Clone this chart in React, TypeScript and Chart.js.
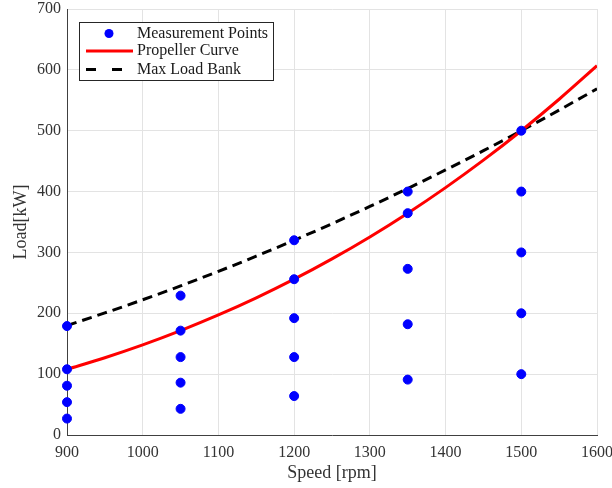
import React, { useEffect, useRef } from "react";
import { Chart, registerables } from "chart.js";

Chart.register(...registerables);

// Measurement points
const measSpeed = [900, 900, 900, 900, 900, 1050, 1050, 1050, 1050, 1050, 1200, 1200, 1200, 1200, 1200, 1350, 1350, 1350, 1350, 1350, 1500, 1500, 1500, 1500, 1500];
const measLoad = [27, 54, 81, 108, 179, 43, 86, 128, 171.5, 229, 64, 128, 192, 256, 320, 91, 182, 273, 364.5, 400, 100, 200, 300, 400, 500];

// Curves
const curveSpeed = [900, 950, 1000, 1050, 1100, 1150, 1200, 1250, 1300, 1350, 1400, 1450, 1500, 1550, 1600];
const propellerLoad = [108.0, 127.0, 148.1, 171.5, 197.2, 225.3, 256.0, 289.4, 325.5, 364.5, 406.5, 451.6, 500.0, 551.7, 606.8];
const maxLoadBank = [180.0, 200.6, 222.2, 245.0, 268.9, 293.9, 320.0, 347.2, 375.6, 405.0, 435.6, 467.2, 500.0, 533.9, 568.9];

const legendLabels = ["Measurement Points", "Propeller Curve", "Max Load Bank"];
const xTitle = "Speed [rpm]";
const yTitle = "Load[kW]";

const FONT = "'Liberation Serif', serif";

const legendPlugin = {
  id: "boxLegend",
  afterDatasetsDraw(chart: any) {
    const ctx = chart.ctx;
    const ca = chart.chartArea;
    const x0 = ca.left + 12;
    const y0 = ca.top + 13;
    const w = 194;
    const h = 58;
    ctx.save();
    ctx.fillStyle = "#ffffff";
    ctx.fillRect(x0, y0, w, h);
    ctx.strokeStyle = "#262626";
    ctx.lineWidth = 1;
    ctx.strokeRect(x0 + 0.5, y0 + 0.5, w, h);
    const rows = [y0 + 11.5, y0 + 29, y0 + 47.5];
    ctx.fillStyle = "#0000ff";
    ctx.beginPath();
    ctx.arc(x0 + 30, rows[0], 4.5, 0, Math.PI * 2);
    ctx.fill();
    ctx.strokeStyle = "#ff0000";
    ctx.lineWidth = 3;
    ctx.beginPath();
    ctx.moveTo(x0 + 7, rows[1]);
    ctx.lineTo(x0 + 54, rows[1]);
    ctx.stroke();
    ctx.strokeStyle = "#000000";
    ctx.setLineDash([10, 16]);
    ctx.beginPath();
    ctx.moveTo(x0 + 7, rows[2]);
    ctx.lineTo(x0 + 54, rows[2]);
    ctx.stroke();
    ctx.setLineDash([]);
    ctx.fillStyle = "#1a1a1a";
    ctx.font = "16px " + FONT;
    ctx.textBaseline = "middle";
    ctx.textAlign = "left";
    legendLabels.forEach((t, i) => ctx.fillText(t, x0 + 58, rows[i]));
    ctx.restore();
  },
};

export default function App() {
  const ref = useRef<HTMLCanvasElement | null>(null);
  useEffect(() => {
    if (!ref.current) return;
    const chart = new Chart(ref.current, {
      type: "scatter",
      data: {
        datasets: [
          {
            label: legendLabels[0],
            data: measSpeed.map((x, i) => ({ x, y: measLoad[i] })),
            backgroundColor: "#0000ff",
            borderColor: "#0000ff",
            pointRadius: 4.5,
            showLine: false,
            clip: false,
          },
          {
            label: legendLabels[1],
            data: curveSpeed.map((x, i) => ({ x, y: propellerLoad[i] })),
            borderColor: "#ff0000",
            backgroundColor: "#ff0000",
            borderWidth: 3,
            pointRadius: 0,
            showLine: true,
            cubicInterpolationMode: "monotone",
          },
          {
            label: legendLabels[2],
            data: curveSpeed.map((x, i) => ({ x, y: maxLoadBank[i] })),
            borderColor: "#000000",
            backgroundColor: "#000000",
            borderWidth: 3,
            borderDash: [10, 6],
            pointRadius: 0,
            showLine: true,
            cubicInterpolationMode: "monotone",
          },
        ] as any,
      },
      options: {
        animation: false,
        responsive: false,
        maintainAspectRatio: false,
        layout: { padding: { top: 9, right: 15, left: 0, bottom: 0 } },
        plugins: { legend: { display: false }, tooltip: { enabled: false } },
        scales: {
          x: {
            type: "linear",
            min: 900,
            max: 1600,
            ticks: {
              stepSize: 100,
              color: "#333333",
              font: { family: FONT, size: 16 },
              padding: 8,
              callback: (v: any) => String(v),
            },
            grid: { color: "#e3e3e3", drawTicks: false },
            border: { display: true, color: "#404040", width: 1 },
            title: { display: true, text: xTitle, color: "#333333", font: { family: FONT, size: 18 }, padding: { top: 0 } },
            afterFit(scale: any) {
              scale.height = 53;
              scale.paddingLeft = 0;
              scale.paddingRight = 0;
            },
          },
          y: {
            type: "linear",
            min: 0,
            max: 700,
            ticks: {
              stepSize: 100,
              color: "#333333",
              font: { family: FONT, size: 16 },
              padding: 6,
              callback: (v: any) => String(v),
            },
            grid: { color: "#e3e3e3", drawTicks: false },
            border: { display: true, color: "#404040", width: 1 },
            title: { display: true, text: yTitle, color: "#333333", font: { family: FONT, size: 18 }, padding: { top: 10, bottom: 0 } },
            afterFit(scale: any) {
              scale.width = 67;
              scale.paddingTop = 0;
              scale.paddingBottom = 0;
            },
          },
        },
      } as any,
      plugins: [legendPlugin],
    });
    return () => chart.destroy();
  }, []);
  return (
    <div style={{ position: "fixed", left: 0, top: 0, width: 612, height: 488, background: "#fff" }}>
      <canvas ref={ref} width={612} height={488} style={{ width: 612, height: 488 }} />
    </div>
  );
}
